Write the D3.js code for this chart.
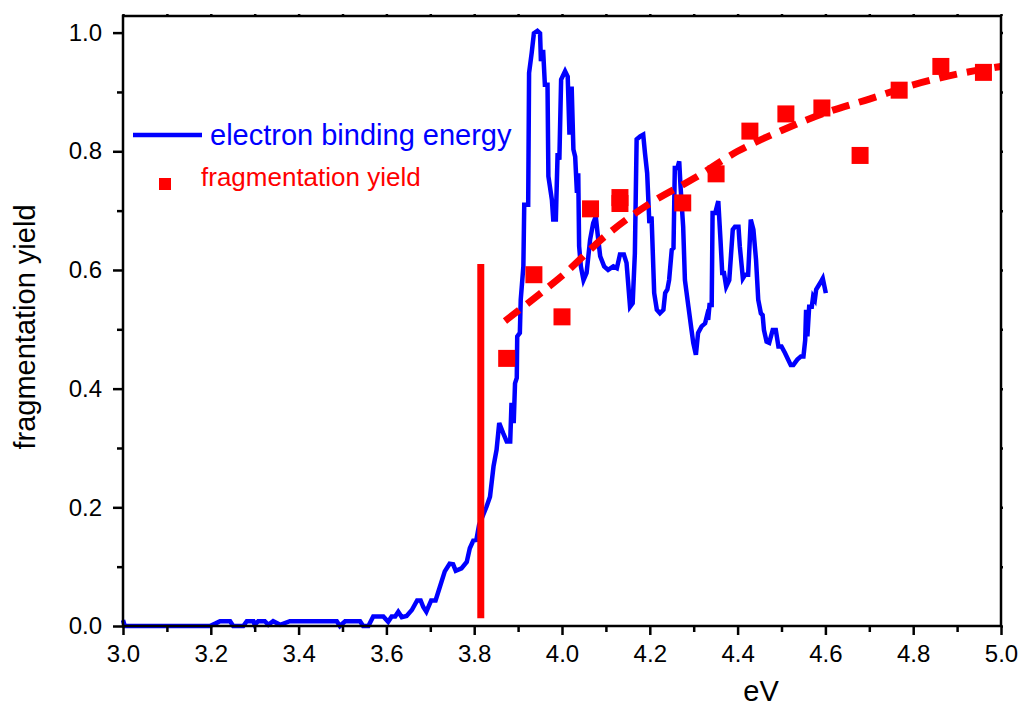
<!DOCTYPE html>
<html>
<head>
<meta charset="utf-8">
<script src="https://cdn.jsdelivr.net/npm/d3@7"></script>
<style>
  body { margin: 0; background: #fff; }
  text { font-family: "Liberation Sans", Arial, sans-serif; }
</style>
</head>
<body>
<figure style="margin:0"></figure>
<script>
// electron binding energy trace (eV, normalised)
const bindingX = [3.000, 3.004, 3.198, 3.210, 3.221, 3.244, 3.251, 3.274, 3.282, 3.297, 3.300, 3.308, 3.323, 3.331, 3.342, 3.358, 3.380, 3.487, 3.494, 3.506, 3.540, 3.547, 3.559, 3.570, 3.593, 3.604, 3.612, 3.620, 3.627, 3.635, 3.646, 3.658, 3.670, 3.678, 3.684, 3.691, 3.702, 3.712, 3.721, 3.733, 3.744, 3.752, 3.758, 3.771, 3.783, 3.790, 3.798, 3.805, 3.811, 3.828, 3.836, 3.844, 3.851, 3.857, 3.866, 3.874, 3.882, 3.885, 3.890, 3.893, 3.897, 3.898, 3.904, 3.906, 3.912, 3.914, 3.923, 3.925, 3.931, 3.936, 3.944, 3.950, 3.952, 3.957, 3.961, 3.967, 3.969, 3.977, 3.980, 3.986, 3.990, 3.994, 3.998, 4.007, 4.013, 4.017, 4.022, 4.026, 4.030, 4.034, 4.037, 4.039, 4.043, 4.049, 4.056, 4.064, 4.071, 4.077, 4.081, 4.087, 4.096, 4.105, 4.117, 4.125, 4.132, 4.141, 4.147, 4.155, 4.161, 4.166, 4.170, 4.178, 4.185, 4.189, 4.194, 4.199, 4.204, 4.210, 4.216, 4.223, 4.231, 4.235, 4.240, 4.244, 4.250, 4.254, 4.257, 4.263, 4.267, 4.270, 4.276, 4.280, 4.288, 4.295, 4.299, 4.305, 4.310, 4.318, 4.326, 4.330, 4.333, 4.336, 4.341, 4.343, 4.349, 4.356, 4.361, 4.365, 4.369, 4.374, 4.381, 4.389, 4.394, 4.402, 4.405, 4.412, 4.417, 4.424, 4.430, 4.436, 4.442, 4.447, 4.453, 4.457, 4.460, 4.466, 4.472, 4.480, 4.487, 4.493, 4.500, 4.508, 4.515, 4.521, 4.527, 4.536, 4.544, 4.550, 4.554, 4.556, 4.559, 4.563, 4.569, 4.572, 4.576, 4.579, 4.588, 4.594, 4.601];
const bindingY = [0.010, 0.000, 0.000, 0.004, 0.008, 0.008, 0.000, 0.000, 0.008, 0.008, 0.002, 0.008, 0.008, 0.002, 0.008, 0.002, 0.008, 0.008, 0.000, 0.008, 0.008, 0.000, 0.000, 0.016, 0.016, 0.007, 0.016, 0.016, 0.024, 0.015, 0.017, 0.027, 0.043, 0.043, 0.032, 0.024, 0.043, 0.043, 0.064, 0.092, 0.105, 0.104, 0.093, 0.097, 0.108, 0.131, 0.144, 0.145, 0.170, 0.201, 0.218, 0.269, 0.297, 0.342, 0.325, 0.311, 0.311, 0.376, 0.342, 0.409, 0.418, 0.488, 0.494, 0.550, 0.606, 0.710, 0.710, 0.932, 0.966, 0.999, 1.003, 0.999, 0.952, 0.971, 0.912, 0.912, 0.758, 0.718, 0.685, 0.685, 0.797, 0.786, 0.921, 0.935, 0.926, 0.828, 0.909, 0.803, 0.791, 0.730, 0.763, 0.640, 0.606, 0.583, 0.595, 0.651, 0.679, 0.690, 0.662, 0.623, 0.606, 0.600, 0.606, 0.603, 0.626, 0.626, 0.612, 0.538, 0.544, 0.628, 0.820, 0.825, 0.828, 0.797, 0.763, 0.679, 0.690, 0.561, 0.533, 0.527, 0.533, 0.561, 0.567, 0.583, 0.634, 0.637, 0.772, 0.772, 0.783, 0.741, 0.673, 0.583, 0.538, 0.499, 0.477, 0.457, 0.494, 0.505, 0.510, 0.522, 0.516, 0.541, 0.541, 0.696, 0.696, 0.716, 0.651, 0.595, 0.595, 0.572, 0.583, 0.668, 0.673, 0.673, 0.640, 0.586, 0.592, 0.592, 0.685, 0.668, 0.617, 0.550, 0.527, 0.524, 0.499, 0.479, 0.477, 0.499, 0.499, 0.471, 0.471, 0.460, 0.449, 0.440, 0.440, 0.449, 0.454, 0.454, 0.482, 0.533, 0.488, 0.538, 0.538, 0.555, 0.550, 0.567, 0.578, 0.586, 0.561];

// fragmentation yield measurements
const yieldX = [3.874, 3.936, 4.000, 4.065, 4.132, 4.132, 4.275, 4.351, 4.428, 4.510, 4.592, 4.679, 4.768, 4.863, 4.960];
const yieldY = [0.451, 0.592, 0.521, 0.703, 0.722, 0.712, 0.713, 0.762, 0.834, 0.863, 0.873, 0.793, 0.903, 0.943, 0.933];

// dashed trend through the yield points
const fitX = [3.87, 3.95, 4.00, 4.10, 4.20, 4.30, 4.40, 4.50, 4.60, 4.70, 4.80, 4.90, 5.00];
const fitY = [0.514, 0.560, 0.590, 0.658, 0.712, 0.754, 0.800, 0.835, 0.865, 0.888, 0.912, 0.930, 0.943];

// threshold marker
const thresholdX = [3.815, 3.815];
const thresholdY = [0.013, 0.610];

const xMajor = [3.0, 3.2, 3.4, 3.6, 3.8, 4.0, 4.2, 4.4, 4.6, 4.8, 5.0];
const xMinor = [3.1, 3.3, 3.5, 3.7, 3.9, 4.1, 4.3, 4.5, 4.7, 4.9];
const yMajor = [0.0, 0.2, 0.4, 0.6, 0.8, 1.0];
const yMinor = [0.1, 0.3, 0.5, 0.7, 0.9];

const xDomain = [3.0, 5.0];
const yDomain = [0, 1.028];

const legendLabels = ["electron binding energy", "fragmentation yield"];
const axisTitles = ["eV", "fragmentation yield"];

let figure = d3.select("figure");
let canvas = figure.append("svg").attr("width", 1021).attr("height", 710);

const margin = { left: 123, right: 20, top: 16, bottom: 84 };
const width = 1021 - margin.left - margin.right;
const height = 710 - margin.top - margin.bottom;

const x = d3.scaleLinear().domain(xDomain).range([margin.left, margin.left + width]);
const y = d3.scaleLinear().domain(yDomain).range([margin.top + height, margin.top]);

function styleAxis(g) {
  g.select(".domain").remove();
  g.selectAll(".tick line").attr("stroke", "#000").attr("stroke-width", 2.5);
  g.selectAll(".tick text").attr("fill", "#000").style("font-size", "24px");
}

function createAxes() {
  const bottom = y(0);
  const left = x(3.0);

  canvas.append("g").attr("transform", `translate(0,${bottom})`)
    .call(d3.axisBottom(x).tickValues(xMajor).tickSize(9).tickPadding(10).tickFormat(d3.format(".1f")))
    .call(styleAxis);
  canvas.append("g").attr("transform", `translate(0,${bottom})`)
    .call(d3.axisBottom(x).tickValues(xMinor).tickSize(6).tickFormat(""))
    .call(styleAxis);

  canvas.append("g").attr("transform", `translate(${left},0)`)
    .call(d3.axisLeft(y).tickValues(yMajor).tickSize(10).tickPadding(11).tickFormat(d3.format(".1f")))
    .call(styleAxis);
  canvas.append("g").attr("transform", `translate(${left},0)`)
    .call(d3.axisLeft(y).tickValues(yMinor).tickSize(6).tickFormat(""))
    .call(styleAxis);

  // tiny ticks on the top and right edges of the frame
  canvas.append("g").attr("transform", `translate(0,${y(yDomain[1])})`)
    .call(d3.axisTop(x).tickValues(xMajor.concat(xMinor)).tickSize(2).tickFormat(""))
    .call(styleAxis);
  canvas.append("g").attr("transform", `translate(${x(5.0)},0)`)
    .call(d3.axisRight(y).tickValues(yMajor.concat(yMinor)).tickSize(2).tickFormat(""))
    .call(styleAxis);

  canvas.append("rect")
    .attr("x", x(3.0))
    .attr("y", y(yDomain[1]))
    .attr("width", x(5.0) - x(3.0))
    .attr("height", y(0) - y(yDomain[1]))
    .attr("fill", "none")
    .attr("stroke", "#000")
    .attr("stroke-width", 2.5);

  canvas.append("text")
    .attr("x", 761)
    .attr("y", 701)
    .attr("text-anchor", "middle")
    .style("font-size", "29px")
    .text(axisTitles[0]);

  canvas.append("text")
    .attr("transform", `translate(35,${(y(0) + y(yDomain[1])) / 2 + 6}) rotate(-90)`)
    .attr("text-anchor", "middle")
    .style("font-size", "29px")
    .text(axisTitles[1]);
}

function createSeries() {
  const binding = bindingX.map((d, i) => [d, bindingY[i]]);
  const fit = fitX.map((d, i) => [d, fitY[i]]);
  const points = yieldX.map((d, i) => [d, yieldY[i]]);
  const threshold = thresholdX.map((d, i) => [d, thresholdY[i]]);

  const line = d3.line().x(d => x(d[0])).y(d => y(d[1]));

  canvas.append("path")
    .datum(binding)
    .attr("d", line)
    .attr("fill", "none")
    .attr("stroke", "#0000ff")
    .attr("stroke-width", 4.5)
    .attr("stroke-linejoin", "miter");

  canvas.append("path")
    .datum(fit)
    .attr("d", d3.line().curve(d3.curveMonotoneX).x(d => x(d[0])).y(d => y(d[1])))
    .attr("fill", "none")
    .attr("stroke", "#ff0000")
    .attr("stroke-width", 7)
    .attr("stroke-dasharray", "18,10");

  const size = 17;
  canvas.selectAll(".yield")
    .data(points)
    .enter()
    .append("rect")
    .attr("class", "yield")
    .attr("x", d => x(d[0]) - size / 2)
    .attr("y", d => y(d[1]) - size / 2)
    .attr("width", size)
    .attr("height", size)
    .attr("fill", "#ff0000");

  canvas.append("path")
    .datum(threshold)
    .attr("d", line)
    .attr("stroke", "#ff0000")
    .attr("stroke-width", 7);
}

function createLegend() {
  canvas.append("line")
    .attr("x1", 133).attr("x2", 202)
    .attr("y1", 135).attr("y2", 135)
    .attr("stroke", "#0000ff")
    .attr("stroke-width", 4.5);
  canvas.append("text")
    .attr("x", 210).attr("y", 145)
    .attr("fill", "#0000ff")
    .style("font-size", "29px")
    .text(legendLabels[0]);

  canvas.append("rect")
    .attr("x", 159).attr("y", 178)
    .attr("width", 12).attr("height", 12)
    .attr("fill", "#ff0000");
  canvas.append("text")
    .attr("x", 201).attr("y", 186)
    .attr("fill", "#ff0000")
    .style("font-size", "26px")
    .text(legendLabels[1]);
}

createSeries();
createAxes();
createLegend();
</script>
</body>
</html>
